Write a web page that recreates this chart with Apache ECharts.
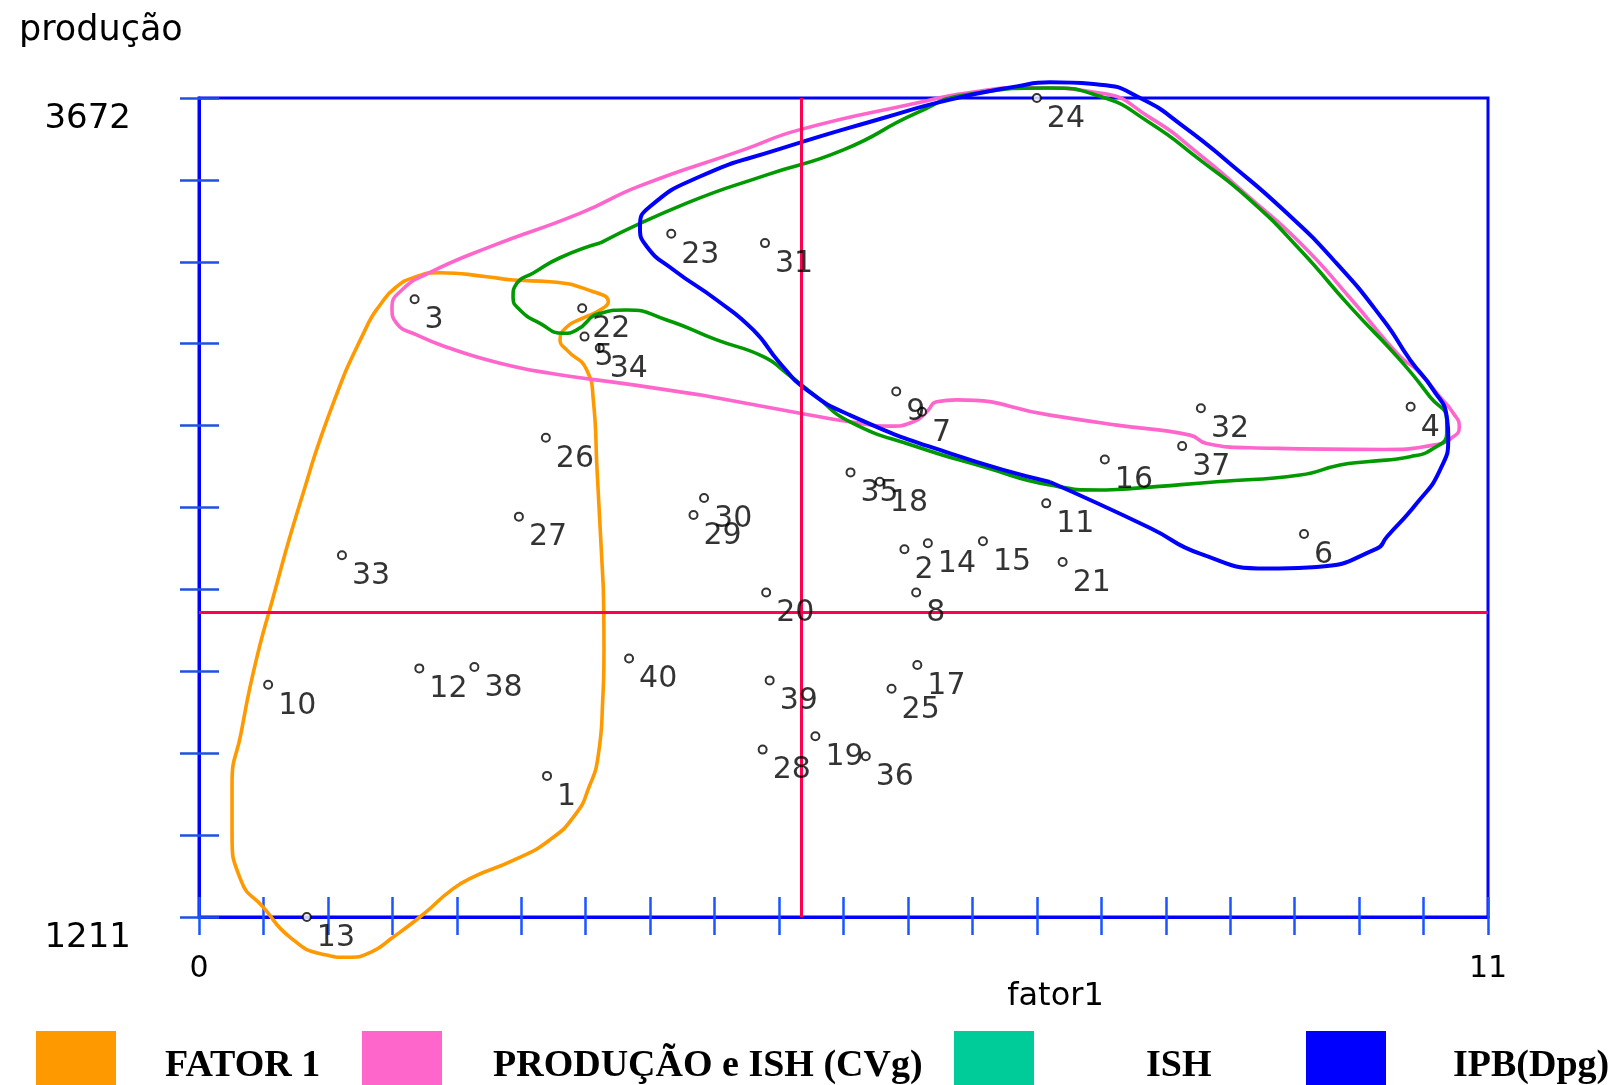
<!DOCTYPE html>
<html>
<head>
<meta charset="utf-8">
<script src="https://cdn.jsdelivr.net/npm/echarts@6/dist/echarts.min.js"></script>
<style>
html,body{margin:0;padding:0;background:#fff;}
#chart{width:1612px;height:1085px;}
</style>
</head>
<body>
<div id="chart"></div>
<script>
// ---- data ----
const pointIds = ['1','2','3','4','5','6','7','8','9','10','11','12','13','14','15','16','17','18','19','20',
                  '21','22','23','24','25','26','27','28','29','30','31','32','33','34','35','36','37','38','39','40'];
const fator1 = [2.97, 6.02, 1.84, 10.34, 3.29, 9.43, 6.17, 6.12, 5.95, 0.59,
                7.23, 1.88, 0.92, 6.22, 6.69, 7.73, 6.13, 5.81, 5.26, 4.84,
                7.37, 3.27, 4.03, 7.15, 5.91, 2.96, 2.73, 4.81, 4.22, 4.31,
                4.83, 8.55, 1.22, 3.42, 5.56, 5.69, 8.39, 2.35, 4.87, 3.67];
const producao = [1635, 2316, 3067, 2744, 2955, 2362, 2729, 2186, 2790, 1909,
                  2454, 1958, 1211, 2334, 2340, 2586, 1968, 2519, 1754, 2186,
                  2278, 3040, 3264, 3672, 1897, 2651, 2414, 1714, 2419, 2470,
                  3236, 2740, 2298, 2921, 2547, 1694, 2626, 1962, 1922, 1988];

const xTickLabels = [0, 11];
const yTickLabels = [1211, 3672];
const meanFator1 = [5.14];
const meanProducao = [2128];

const groupNames = ['FATOR 1', 'PRODUÇÃO e ISH (CVg)', 'ISH', 'IPB(Dpg)'];
const curveColors = ['#FF9900', '#FF66CC', '#009900', '#0000FF'];
const legendColors = ['#FF9900', '#FF66CC', '#00CC99', '#0000FF'];

// group outlines (fator1, produção)
const outlineFator1 = [[3.45,2203],[3.456,2013],[3.445,1862],[3.405,1692],[3.328,1601],[3.216,1521],[2.987,1441],
  [2.68,1381],[2.338,1331],[2.15,1291],[1.92,1221],[1.655,1150],[1.464,1105],[1.273,1090],[1.045,1100],
  [0.778,1150],[0.55,1240],[0.358,1321],[0.282,1461],[0.282,1612],[0.358,1762],[0.474,1962],[0.626,2163],
  [0.862,2454],[1.146,2755],[1.431,2985],[1.545,3050],[1.673,3101],[1.843,3134],[2.057,3147],[2.455,3135],[2.682,3125],
  [2.995,3120],[3.365,3090],[3.493,3060],[3.422,3035],[3.28,3011],[3.138,2984],[3.081,2945],[3.138,2915],
  [3.309,2855],[3.365,2765],[3.397,2554]];
const outlineProducaoISH = [[4.275,2780],[3.706,2810],[2.995,2845],[2.569,2875],[2.142,2920],[1.858,2960],
  [1.687,2995],[1.647,3041],[1.731,3095],[1.959,3146],[2.492,3226],[3.255,3326],[3.763,3408],[4.645,3516],
  [5.129,3577],[6.125,3657],[6.552,3687],[7.092,3703],[7.689,3687],[8.116,3613],[8.542,3501],[8.969,3372],
  [9.396,3237],[9.823,3071],[10.249,2895],[10.392,2855],[10.59,2774],[10.704,2725],[10.755,2684],[10.704,2654],
  [10.533,2629],[10.107,2616],[8.969,2621],[8.6,2634],[8.457,2659],[7.832,2689],[7.262,2719],[6.466,2765],
  [6.295,2759],[6.21,2729],[6.096,2699],[5.897,2686],[5.556,2699],[5.129,2725]];
const outlineISH = [[3.422,3236],[4.162,3356],[4.845,3441],[5.498,3516],[6.125,3627],[6.552,3682],[7.262,3702],
  [7.689,3677],[8.116,3597],[8.542,3486],[8.969,3366],[9.396,3216],[9.823,3045],[10.249,2885],[10.505,2774],
  [10.648,2704],[10.648,2664],[10.533,2619],[10.335,2594],[9.965,2579],[9.737,2569],[9.396,2539],[8.685,2519],
  [7.973,2499],[7.689,2494],[7.262,2509],[6.693,2564],[6.125,2624],[5.556,2699],[5.271,2774],[5.015,2845],
  [4.816,2895],[4.418,2945],[3.991,3005],[3.65,3035],[3.422,3025],[3.223,2975],[3.109,2965],[2.91,2995],
  [2.739,3035],[2.68,3074],[2.714,3116],[2.853,3146],[3.081,3192]];
const outlineIPB = [[7.262,2518],[6.409,2604],[5.556,2719],[5.186,2795],[4.958,2875],[4.73,2975],[4.418,3065],
  [4.048,3156],[3.821,3226],[3.763,3286],[3.849,3346],[4.275,3436],[4.93,3516],[5.84,3612],[6.409,3667],
  [6.978,3707],[7.262,3719],[7.689,3712],[8.031,3672],[8.4,3587],[8.827,3466],[9.253,3336],[9.68,3186],
  [10.107,3005],[10.335,2885],[10.533,2795],[10.648,2714],[10.661,2654],[10.59,2554],[10.392,2454],
  [10.136,2353],[10.051,2318],[9.538,2263],[9.112,2258],[8.542,2303],[8.116,2380]];

// ---- chart ----
const outlines = [outlineFator1, outlineProducaoISH, outlineISH, outlineIPB];
const chart = echarts.init(document.getElementById('chart'), null, {renderer: 'canvas'});

const pointData = pointIds.map((id, i) => ({name: id, value: [fator1[i], producao[i]]}));

const curveSeries = groupNames.map((name, i) => ({
  name: name,
  type: 'line',
  data: outlines[i].concat([outlines[i][0]]),
  smooth: 0.55,
  showSymbol: false,
  symbol: 'none',
  clip: false,
  silent: true,
  z: [2, 2, 3, 4][i],
  color: curveColors[i],
  lineStyle: {color: curveColors[i], width: i === 3 ? 4 : 3.6}
}));

const legendLeft = [36, 362, 954, 1306];
const legendGap = [44, 46, 107, 62];
const legends = groupNames.map((name, i) => ({
  left: legendLeft[i],
  top: 1031,
  padding: 0,
  itemWidth: 80,
  itemHeight: 56,
  selectedMode: false,
  data: [{name: name, icon: 'rect', itemStyle: {color: legendColors[i], borderWidth: 0}}],
  formatter: '{t|{name}}',
  textStyle: {
    rich: {
      t: {fontFamily: '"Liberation Serif", "Times New Roman", serif', fontWeight: 'bold', fontSize: 38,
          color: '#000', padding: [14, 0, 0, legendGap[i]]}
    }
  }
}));

const labelFont = '"DejaVu Sans", sans-serif';

chart.setOption({
  animation: false,
  backgroundColor: '#fff',
  title: {
    text: 'produção',
    left: 14,
    top: 8,
    textStyle: {fontFamily: labelFont, fontSize: 35, fontWeight: 'normal', color: '#000'}
  },
  legend: legends,
  grid: {
    left: 199, top: 98, right: 124, bottom: 168,
    show: true, borderColor: '#0000FF', borderWidth: 3, backgroundColor: 'transparent'
  },
  xAxis: [
    {
      type: 'value', min: 0, max: 11, interval: 11, position: 'bottom',
      name: 'fator1', nameLocation: 'middle', nameGap: 64, nameMoveOverlap: false,
      nameTextStyle: {fontFamily: labelFont, fontSize: 32, color: '#000', padding: [0, 0, 0, 424]},
      axisLine: {onZero: false, lineStyle: {color: '#0000FF', width: 3}},
      axisTick: {show: false},
      splitLine: {show: false},
      axisLabel: {
        margin: 37, color: '#000', fontFamily: labelFont, fontSize: 30,
        formatter: v => (xTickLabels.indexOf(v) >= 0 ? String(v) : '')
      }
    },
    {
      type: 'value', min: 0, max: 20, interval: 1, position: 'bottom', offset: 18,
      axisLine: {show: false, onZero: false},
      axisTick: {show: true, inside: true, length: 38, lineStyle: {color: '#1a55ff', width: 2.5}},
      axisLabel: {show: false},
      splitLine: {show: false}
    }
  ],
  yAxis: [
    {
      type: 'value', min: 1211, max: 3672, interval: 2461, position: 'left',
      axisLine: {onZero: false, lineStyle: {color: '#0000FF', width: 3}},
      axisTick: {show: false},
      splitLine: {show: false},
      axisLabel: {
        margin: 68, color: '#000', fontFamily: labelFont, fontSize: 34, lineHeight: 42,
        formatter: v => (yTickLabels.indexOf(v) >= 0 ? '\n' + String(v) : '')
      }
    },
    {
      type: 'value', min: 0, max: 10, interval: 1, position: 'left', offset: 19,
      axisLine: {show: false, onZero: false},
      axisTick: {show: true, inside: true, length: 39, lineStyle: {color: '#2050e0', width: 2.5}},
      axisLabel: {show: false},
      splitLine: {show: false}
    }
  ],
  series: [
    {
      name: 'pontos',
      type: 'scatter',
      data: pointData,
      symbol: 'circle',
      symbolSize: 8,
      clip: false,
      z: 5,
      itemStyle: {color: '#fff', borderColor: '#000', borderWidth: 2},
      label: {
        show: true,
        position: 'right',
        distance: 5,
        offset: [0, 21],
        formatter: '{b}',
        color: '#000',
        fontFamily: labelFont,
        fontSize: 30
      },
      markLine: {
        silent: true,
        symbol: ['none', 'none'],
        label: {show: false},
        lineStyle: {color: '#FF0050', width: 3, type: 'solid'},
        data: [{xAxis: meanFator1[0]}, {yAxis: meanProducao[0]}]
      }
    }
  ].concat(curveSeries)
});
</script>
</body>
</html>
